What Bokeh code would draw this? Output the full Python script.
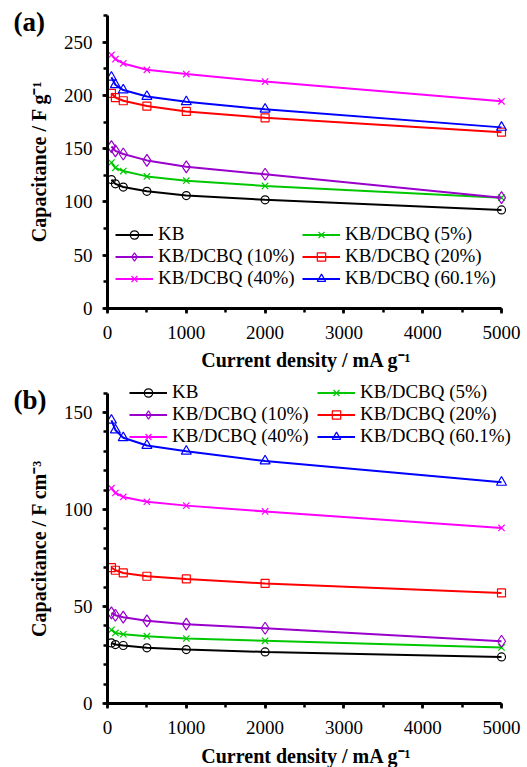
import math
from bokeh.plotting import figure
from bokeh.layouts import column
from bokeh.models import (Range1d, SingleIntervalTicker, Legend, LegendItem, Label,
                          GridBox)
from bokeh.embed import file_html
from bokeh.resources import INLINE

# ---- data ----
current = [50, 100, 200, 500, 1000, 2000, 5000]
names = ["KB", "KB/DCBQ (5%)", "KB/DCBQ (10%)", "KB/DCBQ (20%)", "KB/DCBQ (40%)", "KB/DCBQ (60.1%)"]

grav_kb = [121, 117, 114, 110, 106, 102, 92.5]
grav_5 = [137, 132, 129, 124, 120, 115, 104]
grav_10 = [152, 148, 145, 139, 133, 126, 104]
grav_20 = [202, 198, 195, 190, 185, 179, 165.5]
grav_40 = [238, 234, 230, 224, 220, 213, 194.5]
grav_60 = [217, 210, 205, 199, 194, 187, 170]

vol_kb = [31.2, 30.4, 29.9, 28.7, 27.8, 26.6, 24.0]
vol_5 = [38.0, 36.4, 35.7, 34.7, 33.5, 32.3, 28.9]
vol_10 = [46.7, 45.5, 44.5, 42.6, 40.9, 38.8, 32.1]
vol_20 = [70.0, 68.7, 67.3, 65.6, 64.2, 61.9, 57.0]
vol_40 = [111.0, 108.5, 106.5, 104.0, 102.0, 99.0, 90.5]
vol_60 = [146.0, 141.0, 137.0, 133.0, 130.0, 125.0, 114.0]

x_title = "Current density / mA g\u207b\u00b9"
y_title_a = "Capacitance / F g\u207b\u00b9"
y_title_b = "Capacitance / F cm\u207b\u00b3"

colors = ["#000000", "#00C800", "#9900CC", "#FF0000", "#FF00FF", "#0000FF"]
markers = ["circle", "x", "diamond", "square", "x", "triangle"]
marker_sizes = [8, 9, 12, 8, 9, 10]

FONT = "Liberation Serif"


def make_plot(series, ymax, ytop, yint, yminor, height, top, bottom, leg_pos, s1):
    p = figure(width=527, height=height, output_backend="svg", toolbar_location=None,
               x_range=Range1d(0, 5203), y_range=Range1d(0, ytop),
               min_border_left=107, min_border_right=10,
               min_border_top=top, min_border_bottom=bottom)
    p.outline_line_color = None
    p.xgrid.visible = False
    p.ygrid.visible = False
    p.background_fill_alpha = 0
    p.border_fill_alpha = 0

    p.xaxis.ticker = SingleIntervalTicker(interval=1000, num_minor_ticks=2)
    p.yaxis.ticker = SingleIntervalTicker(interval=yint, num_minor_ticks=yminor)
    p.xaxis.bounds = (0, 5000)
    p.yaxis.bounds = (0, ymax)
    for ax in p.axis:
        ax.axis_line_width = 3
        ax.axis_line_color = "black"
        ax.major_tick_line_width = 2.5
        ax.minor_tick_line_width = 2.5
        ax.major_tick_line_color = "black"
        ax.minor_tick_line_color = "black"
        ax.major_tick_in = 0
        ax.major_tick_out = 5
        ax.minor_tick_in = 0
        ax.minor_tick_out = 4
        ax.major_label_text_font = FONT
        ax.major_label_text_font_size = "19px"
        ax.major_label_text_color = "black"
    p.xaxis.major_label_standoff = s1
    p.yaxis.major_label_standoff = 10

    items = []
    for name, ys, c, m, s in zip(names, series, colors, markers, marker_sizes):
        lr = p.line(current, ys, line_color=c, line_width=2)
        sr = p.scatter(current, ys, marker=m, size=s, line_color=c, fill_color=None,
                       line_width=1.2)
        items.append(LegendItem(label=name, renderers=[lr, sr]))

    col1 = [items[0], items[2], items[4]]
    col2 = [items[1], items[3], items[5]]
    for its, (lx, ly) in zip([col1, col2], leg_pos):
        leg = Legend(items=its, location=(lx, ly), orientation="vertical",
                     glyph_width=38, glyph_height=21, label_standoff=5, spacing=-3,
                     padding=0, margin=0, border_line_alpha=0, background_fill_alpha=0,
                     label_text_font=FONT, label_text_font_size="19px",
                     label_text_color="black", label_height=17)
        p.add_layout(leg)
    return p


# (a): canvas 0..374, frame top 15, frame bottom 308
pa = make_plot([grav_kb, grav_5, grav_10, grav_20, grav_40, grav_60],
               275, 275, 50, 2, 374, 15, 66, [(8, 19), (195, 19)], 12)
# (b): canvas 374..767, frame raised to 380 (axis still ends at 160), bottom 703
pb = make_plot([vol_kb, vol_5, vol_10, vol_20, vol_40, vol_60],
               160, 166.5, 50, 5, 393, 6, 64, [(22, 256), (210, 256)], 12)

# transparent overlay carrying panel tags and axis titles (pixel coordinates)
ov = figure(width=527, height=767, output_backend="svg", toolbar_location=None,
            x_range=Range1d(0, 527), y_range=Range1d(767, 0),
            x_axis_type=None, y_axis_type=None, min_border=0)
ov.outline_line_color = None
ov.background_fill_alpha = 0
ov.border_fill_alpha = 0
ov.xgrid.visible = False
ov.ygrid.visible = False

texts = [
    ("(a)", 13, 21.5, 0, "left", "27px"),
    ("(b)", 13, 399.5, 0, "left", "27px"),
    (y_title_a, 38.5, 161, math.pi / 2, "center", "20px"),
    (y_title_b, 38.5, 548, math.pi / 2, "center", "20px"),
    (x_title, 306, 359, 0, "center", "20px"),
    (x_title, 306, 755, 0, "center", "20px"),
]
for t, x, y, ang, al, fs in texts:
    ov.add_layout(Label(x=x, y=y, text=t, angle=ang, text_font=FONT,
                        text_font_size=fs, text_font_style="bold",
                        text_color="black", text_align=al, text_baseline="middle"))

charts = column(pa, pb, spacing=0)
overlay = column(ov)
layout = GridBox(children=[(charts, 0, 0), (overlay, 0, 0)], spacing=0)
open("out.html", "w").write(file_html(layout, INLINE))
